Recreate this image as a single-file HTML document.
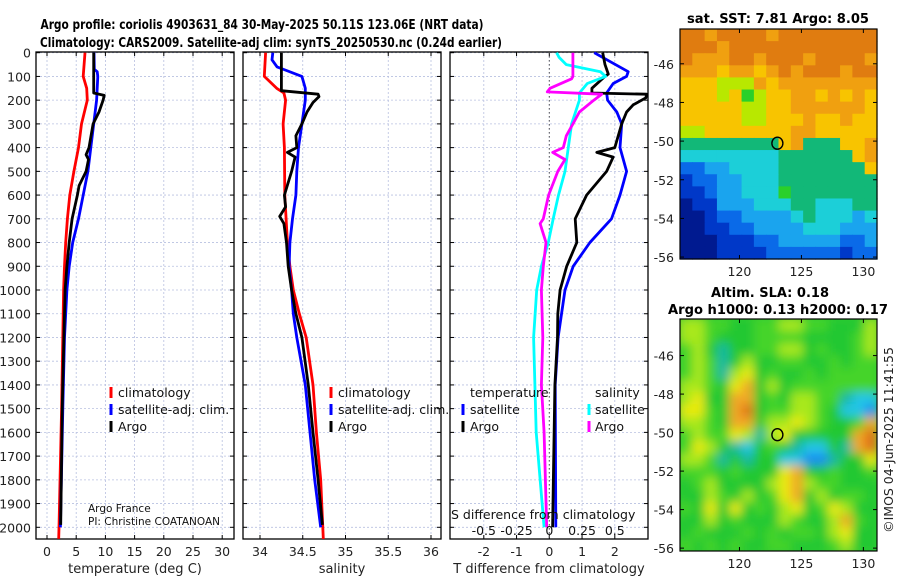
<!DOCTYPE html>
<html><head><meta charset="utf-8"><style>
body{margin:0;background:#fff;width:900px;height:580px;overflow:hidden}
svg{display:block;font-family:"DejaVu Sans","Liberation Sans",sans-serif}
</style></head><body>
<svg id="fig" width="900" height="580" viewBox="0 0 900 580">
<defs>
<clipPath id="clipSla"><rect x="680" y="319" width="197" height="232"/></clipPath>
<filter id="blur" x="-10%" y="-10%" width="120%" height="120%"><feGaussianBlur stdDeviation="5"/></filter>
</defs>
<text x="262" y="29" font-size="13" font-weight="bold" text-anchor="middle" textLength="443" lengthAdjust="spacingAndGlyphs">Argo profile: coriolis 4903631_84 30-May-2025 50.11S 123.06E (NRT data)</text>
<text x="271" y="47" font-size="13" font-weight="bold" text-anchor="middle" textLength="462" lengthAdjust="spacingAndGlyphs">Climatology: CARS2009. Satellite-adj clim: synTS_20250530.nc (0.24d earlier)</text>
<text x="778" y="23" font-size="13" font-weight="bold" text-anchor="middle" textLength="182" lengthAdjust="spacingAndGlyphs">sat. SST: 7.81 Argo: 8.05</text>
<text x="770" y="297" font-size="13" font-weight="bold" text-anchor="middle" textLength="118" lengthAdjust="spacingAndGlyphs">Altim. SLA: 0.18</text>
<text x="778" y="314" font-size="13" font-weight="bold" text-anchor="middle" textLength="220" lengthAdjust="spacingAndGlyphs">Argo h1000: 0.13 h2000: 0.17</text>
<text transform="translate(893,440) rotate(-90)" font-size="12.5" text-anchor="middle" fill="#222">©IMOS 04-Jun-2025 11:41:55</text>
<g id="g"></g>
</svg>
<script>
// depth axis
const depthTicks=[0,100,200,300,400,500,600,700,800,900,1000,1100,1200,1300,1400,1500,1600,1700,1800,1900,2000];
// temperature panel
const tTicks=[0,5,10,15,20,25,30];
const tClimD=[0,100,150,200,300,400,500,600,700,800,900,1000,1200,1500,2000,2050];
const tClimV=[6.5,6.2,6.8,6.9,5.9,5.4,4.6,3.9,3.5,3.2,3.0,2.85,2.7,2.5,2.05,2.0];
const tSatD=[0,70,80,100,150,200,300,400,500,600,700,800,900,1000,1200,1500,2000];
const tSatV=[8.05,8.1,8.6,8.7,8.6,8.5,8.0,7.5,7.0,6.2,5.4,4.4,3.8,3.4,3.0,2.7,2.3];
const tArgoD=[0,170,180,200,250,300,400,430,450,500,560,600,700,800,900,1000,1200,1500,1800,1990];
const tArgoV=[8.0,8.0,9.8,9.6,8.9,7.9,7.2,6.7,7.1,6.7,5.5,5.2,4.3,3.8,3.4,3.1,2.9,2.6,2.45,2.35];
// salinity panel
const sTicks=[34,34.5,35,35.5,36];
const sClimD=[0,100,110,150,170,200,300,400,600,800,900,1000,1100,1200,1400,1600,1800,2000,2050];
const sClimV=[34.066,34.05,34.08,34.195,34.28,34.30,34.27,34.285,34.29,34.32,34.35,34.39,34.46,34.54,34.62,34.66,34.71,34.735,34.74];
const sSatD=[0,30,60,75,100,150,200,300,400,500,600,700,800,900,1000,1100,1200,1400,1600,1800,2000];
const sSatV=[34.15,34.14,34.2,34.31,34.49,34.53,34.53,34.49,34.45,34.43,34.42,34.38,34.35,34.34,34.37,34.39,34.43,34.53,34.585,34.64,34.71];
const sArgoD=[0,160,175,185,210,250,300,350,400,420,440,500,600,650,690,720,800,900,1000,1100,1200,1400,1600,1800,1990];
const sArgoV=[34.25,34.25,34.68,34.69,34.62,34.55,34.49,34.42,34.43,34.32,34.41,34.37,34.285,34.30,34.23,34.28,34.31,34.33,34.37,34.42,34.49,34.565,34.62,34.68,34.73];
// difference panel
const dTTicks=[-2,-1,0,1,2];
const dSTicks=[-0.5,-0.25,0,0.25,0.5];
const dSTickLabels=["-0.5","-0.25","0","0.25","0.5"];
const dTSatD=[0,80,100,130,170,200,250,300,400,500,600,700,800,900,1000,1200,1400,2000];
const dTSatV=[1.37,2.41,2.36,1.95,1.75,1.78,2.06,2.21,2.16,2.36,2.16,1.9,1.24,0.73,0.48,0.27,0.18,0.2];
const dTArgoD=[0,50,90,100,150,170,175,190,220,250,300,400,420,440,500,600,700,800,900,1000,1100,1200,1400,2000];
const dTArgoV=[1.63,1.7,1.8,1.7,1.3,1.3,2.97,2.95,2.56,2.36,2.21,2.0,1.45,1.95,1.75,1.14,0.79,0.84,0.53,0.33,0.26,0.25,0.17,0.1];
const dSSatD=[0,20,50,80,100,130,170,200,300,400,500,600,700,800,900,1000,1200,1400,1600,2000];
const dSSatV=[0.056,0.075,0.13,0.39,0.43,0.29,0.23,0.23,0.17,0.145,0.12,0.07,0.03,-0.008,-0.06,-0.096,-0.12,-0.11,-0.10,-0.04];
const dSArgoD=[0,100,110,150,165,175,200,250,300,350,400,420,450,500,600,700,720,800,900,1000,1200,1400,1600,2000];
const dSArgoV=[0.18,0.18,0.17,0.005,-0.015,0.40,0.34,0.23,0.18,0.13,0.107,0.026,0.12,0.065,-0.005,-0.046,-0.07,-0.025,-0.046,-0.06,-0.05,-0.06,-0.04,-0.02];
// maps
const lonTicks=[120,125,130];
const latTicks=[-46,-48,-50,-52,-54,-56];
const sstRows=["aa9aaaa9aaaaaaaa","aaa9aaaaaaaaaaaa","a999aa9aaa9aaaa9","99989989a9aaa9aa","8887779899999999","8887867889989898","8888877889999998","8888877888988988","7788888889988888","5555555589555889","4444444455555589","2233444455555558","1223344455555555","1123344465555555","0113334445544455","0012233334544434","0011223333444333","0001112233333223","0001111222222122"];
const slaRows=["5544334455443335","5543334444333345","4532334455343345","4542353344334344","4542563433434444","5543673534444444","5633773435544211","6643783445543110","5543773556543347","4544652563333378","4653213432113278","5542323311002336","4443433367334334","3453333567544333","3354353467353443","4363634356346533","3353433354335743","3433343434435633","4343433443334533"];
const sstColors={'0':'#001a90','1':'#0038c8','2':'#0a6ae8','3':'#1aa4ee','4':'#1ccfd8','5':'#12b878','6':'#2ad02a','7':'#b8e800','8':'#f8c400','9':'#f0a010','a':'#e07c10'};
const slaColors=['#1f8cf0','#22c6e6','#16b8a0','#22c832','#44d42a','#a8e81a','#eaea10','#f0a828','#e07018'];

const NS='http://www.w3.org/2000/svg';
const g=document.getElementById('g');
function el(tag,attrs,parent){const e=document.createElementNS(NS,tag);for(const k in attrs)e.setAttribute(k,attrs[k]);(parent||g).appendChild(e);return e;}
const yD=d=>52.7+d*0.2373;
const PB=539;
function panel(x0,x1,xs,ticks,labels,xlabel,name){
  const grp=el('g',{});
  
  
  depthTicks.forEach(d=>{el('line',{x1:x0,x2:x1,y1:yD(d),y2:yD(d),stroke:'#b8c0e0','stroke-width':0.8,'stroke-dasharray':'2,2'},grp);
    el('line',{x1:x0,x2:x0+4,y1:yD(d),y2:yD(d),stroke:'#000'},grp);el('line',{x1:x1-4,x2:x1,y1:yD(d),y2:yD(d),stroke:'#000'},grp);});
  ticks.forEach((v,i)=>{const x=xs(v);el('line',{x1:x,x2:x,y1:52,y2:PB,stroke:'#b8c0e0','stroke-width':0.8,'stroke-dasharray':'2,2'},grp);
    el('line',{x1:x,x2:x,y1:PB-4,y2:PB,stroke:'#000'},grp);el('line',{x1:x,x2:x,y1:52,y2:56,stroke:'#000'},grp);
    if(labels){const t=el('text',{x:x,y:556,'font-size':12.5,'text-anchor':'middle',fill:'#222'},grp);t.textContent=labels[i];
      
      }});
  el('rect',{x:x0,y:52,width:x1-x0,height:PB-52,fill:'none',stroke:'#000','stroke-width':1.3},grp);
  const xl=el('text',{x:(x0+x1)/2,y:573,'font-size':13,'text-anchor':'middle',fill:'#222'},grp);xl.textContent=xlabel;
  
  
  return grp;
}
function line(D,V,xs,color,name,w){
  const pts=D.map((d,i)=>xs(V[i]).toFixed(1)+','+yD(Math.min(d,2049)).toFixed(1)).join(' ');
  const p=el('polyline',{points:pts,fill:'none',stroke:color,'stroke-width':w||2.8,'stroke-linejoin':'round'});
  
  
}
function txt(x,y,s,name,size,anchor){const t=el('text',{x:x,y:y,'font-size':size||12.5,'text-anchor':anchor||'start',fill:'#111'});t.textContent=s;
  
  return t;}
function mark(x,y,c){const r=el('rect',{x:x-1.5,y:y-10,width:3,height:11,fill:c});
  
  }

// panel 1
const xT=v=>47+v*5.84;
panel(36,234,xT,tTicks,tTicks.map(String),'temperature (deg C)','temperature-panel');
depthTicks.forEach(d=>{const t=el('text',{x:31,y:yD(d)+5,'font-size':12.5,'text-anchor':'end',fill:'#222'});t.textContent=d;
  
  });
line(tClimD,tClimV,xT,'#f00','temp-climatology-line');
line(tSatD,tSatV,xT,'#00f','temp-satellite-line');
line(tArgoD,tArgoV,xT,'#000','temp-argo-line');
mark(111,397,'#f00');txt(118,397,'climatology','legend-climatology');
mark(111,414,'#00f');txt(118,414,'satellite-adj. clim.','legend-satellite');
mark(111,431,'#000');txt(118,431,'Argo','legend-argo');
txt(88,512,'Argo France','argo-france-label',10.5);
txt(88,525,'PI: Christine COATANOAN','pi-label',10.5);

// panel 2
const xS=v=>260+(v-34)*85.5;
panel(243,441,xS,sTicks,sTicks.map(String),'salinity','salinity-panel');
line(sClimD,sClimV,xS,'#f00','sal-climatology-line');
line(sSatD,sSatV,xS,'#00f','sal-satellite-line');
line(sArgoD,sArgoV,xS,'#000','sal-argo-line');
mark(331,397,'#f00');txt(338,397,'climatology','legend-climatology-2');
mark(331,414,'#00f');txt(338,414,'satellite-adj. clim.','legend-satellite-2');
mark(331,431,'#000');txt(338,431,'Argo','legend-argo-2');

// panel 3
const xDT=v=>549.3+v*32.75;
const xDS=v=>549.3+v*4*32.75;
panel(450,648,xDT,dTTicks,dTTicks.map(String),'T difference from climatology','difference-panel');
el('line',{x1:549.3,x2:549.3,y1:52,y2:PB,stroke:'#555','stroke-width':1,'stroke-dasharray':'1.5,2.5'});
line(dTSatD,dTSatV,xDT,'#00f','tdiff-satellite-line');
line(dTArgoD,dTArgoV,xDT,'#000','tdiff-argo-line');
line(dSSatD,dSSatV,xDS,'#0ff','sdiff-satellite-line');
line(dSArgoD,dSArgoV,xDS,'#f0f','sdiff-argo-line');
txt(470,397,'temperature','legend-temperature-heading');
mark(463,414,'#00f');txt(470,414,'satellite','legend-tsat');
mark(463,431,'#000');txt(470,431,'Argo','legend-targo');
txt(595,397,'salinity','legend-salinity-heading');
mark(589,414,'#0ff');txt(595,414,'satellite','legend-ssat');
mark(589,431,'#f0f');txt(595,431,'Argo','legend-sargo');
txt(451,519,'S difference from climatology','s-axis-title',12.5);
dSTicks.forEach((v,i)=>txt(xDS(v),535,dSTickLabels[i],'s-tick-label',12.5,'middle'));

// maps
function map(top,bottom,rows,colorOf,name,blur){
  const L=680,R=877,lon0=115.2,lon1=131.1,latTop=(top===29?-44.2:-44.1),latBot=(top===29?-56.1:-56.15);
  const xl=v=>L+(v-lon0)/(lon1-lon0)*(R-L);
  const yl=v=>top+(v-latTop)/(latBot-latTop)*(bottom-top);
  const grp=el('g',blur?{'clip-path':'url(#clipSla)'}:{});
  
  
  const inner=blur?el('g',{filter:'url(#blur)'},grp):grp;
  if(blur)el('rect',{x:L-20,y:top-20,width:R-L+40,height:bottom-top+40,fill:'#33cc33'},inner);
  const nr=rows.length,nc=rows[0].length,cw=(R-L)/nc,ch=(bottom-top)/nr;
  rows.forEach((r,j)=>{for(let i=0;i<nc;i++){
    const c=el('rect',{x:(L+i*cw).toFixed(2),y:(top+j*ch).toFixed(2),width:(cw+0.6).toFixed(2),height:(ch+0.6).toFixed(2),fill:colorOf(r[i])},inner);
    
    }});
  el('rect',{x:L,y:top,width:R-L,height:bottom-top,fill:'none',stroke:'#000','stroke-width':1.2});
  latTicks.forEach(v=>{const y=yl(v);el('line',{x1:L,x2:L+4,y1:y,y2:y,stroke:'#000'});el('line',{x1:R-4,x2:R,y1:y,y2:y,stroke:'#000'});
    const t=el('text',{x:L-6,y:y+5,'font-size':12.5,'text-anchor':'end',fill:'#222'});t.textContent=v;
    
    });
  lonTicks.forEach(v=>{const x=xl(v);el('line',{x1:x,x2:x,y1:bottom-4,y2:bottom,stroke:'#000'});el('line',{x1:x,x2:x,y1:top,y2:top+4,stroke:'#000'});
    const t=el('text',{x:x,y:bottom+17,'font-size':12.5,'text-anchor':'middle',fill:'#222'});t.textContent=v;
    
    });
  const ci=el('ellipse',{cx:xl(123.06),cy:yl(-50.11),rx:5.5,ry:6,fill:'none',stroke:'#000','stroke-width':1.4});
  
  
}
map(29,259,sstRows,k=>sstColors[k],'sst-map',false);
map(319,551,slaRows,k=>slaColors[+k],'sla-map',true);
</script>
</body></html>
